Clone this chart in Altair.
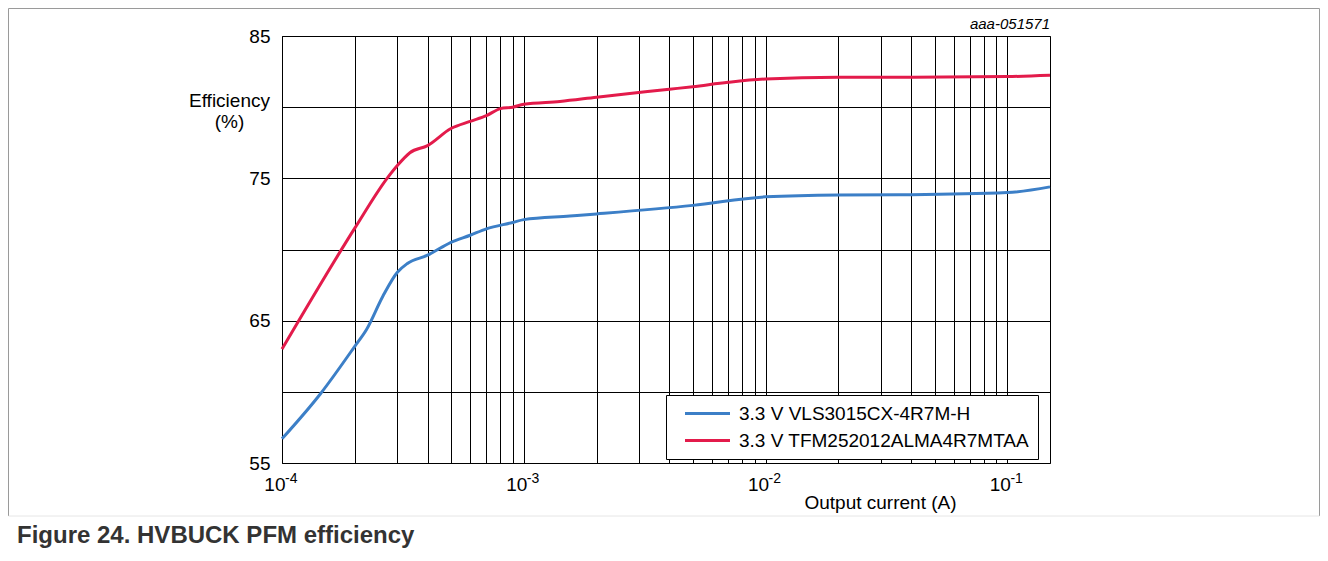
import altair as alt
import pandas as pd

# ---------------- data ----------------
blue_name = "3.3 V VLS3015CX-4R7M-H"
red_name = "3.3 V TFM252012ALMA4R7MTAA"

blue_current = [1e-4, 1.44e-4, 2e-4, 2.24e-4, 2.61e-4, 3e-4, 3.29e-4, 4e-4, 5e-4, 6e-4,
                7e-4, 9e-4, 1e-3, 1.55e-3, 2e-3, 5e-3, 1e-2, 2e-2, 4e-2, 1e-1, 0.15]
blue_eff = [56.7, 59.85, 63.2, 64.4, 66.7, 68.4, 69.0, 69.6, 70.5, 71.0,
            71.45, 71.9, 72.1, 72.35, 72.5, 73.1, 73.7, 73.83, 73.85, 74.0, 74.4]

red_current = [1e-4, 2e-4, 2.72e-4, 3e-4, 3.38e-4, 4e-4, 5e-4, 6e-4, 7e-4, 8e-4, 9e-4,
               1e-3, 1.41e-3, 2e-3, 4e-3, 5e-3, 7e-3, 1e-2, 2e-2, 4e-2, 1e-1, 0.15]
red_eff = [63.0, 71.5, 75.0, 75.9, 76.8, 77.3, 78.5, 79.0, 79.4, 79.9, 80.0,
           80.2, 80.4, 80.7, 81.26, 81.44, 81.75, 81.98, 82.1, 82.1, 82.15, 82.24]

decade_values = [1e-4, 1e-3, 1e-2, 1e-1]
decade_exponents = ["-4", "-3", "-2", "-1"]
y_grid = [55, 60, 65, 70, 75, 80, 85]
x_grid = [m * 10.0 ** e for e in range(-4, 0) for m in range(1, 10) if m * 10.0 ** e <= 0.15]

doc_id = "aaa-051571"
caption = "Figure 24.  HVBUCK PFM efficiency"

BLUE = "#3c7fc7"
RED = "#e31b4b"
FONT = "Liberation Sans"

df = pd.DataFrame({
    "current": blue_current + red_current,
    "eff": blue_eff + red_eff,
    "series": [blue_name] * len(blue_current) + [red_name] * len(red_current),
})
exp_df = pd.DataFrame({"current": decade_values, "exp": decade_exponents})

W, H = 768, 427

x_scale = alt.Scale(type="log", domain=[1e-4, 0.15], nice=False)
y_scale = alt.Scale(domain=[55, 85], nice=False, zero=False)

x_axis = alt.Axis(values=x_grid, grid=True, ticks=False, domain=False,
                  gridColor="black", gridOpacity=1, gridWidth=1,
                  labelExpr="abs(log(datum.value)/LN10 - round(log(datum.value)/LN10)) < 0.001 ? '10' : ''",
                  labelAlign="right", labelOffset=3, labelBaseline="alphabetic",
                  labelPadding=27, labelFontSize=19, labelColor="black",
                  labelFont=FONT, labelOverlap=False,
                  title="Output current (A)", titleFontSize=19, titleFont=FONT,
                  titleFontWeight="normal", titleColor="black",
                  titleX=598, titleY=45, titleAlign="center",
                  titleBaseline="alphabetic")

y_axis = alt.Axis(values=y_grid, grid=True, ticks=False, domain=False,
                  gridColor="black", gridOpacity=1, gridWidth=1,
                  labelExpr="datum.value % 10 == 5 ? datum.label : ''",
                  labelPadding=12, labelFontSize=19, labelColor="black",
                  labelFont=FONT,
                  title=["Efficiency", "(%)"], titleAngle=0, titleFontSize=19,
                  titleFont=FONT, titleFontWeight="normal", titleColor="black",
                  titleX=-53, titleY=70, titleAlign="center",
                  titleBaseline="alphabetic", titleLineHeight=21)

lines = alt.Chart(df).mark_line(strokeWidth=3, interpolate="monotone").encode(
    x=alt.X("current:Q", scale=x_scale, axis=x_axis),
    y=alt.Y("eff:Q", scale=y_scale, axis=y_axis),
    color=alt.Color("series:N",
                    scale=alt.Scale(domain=[blue_name, red_name], range=[BLUE, RED]),
                    legend=alt.Legend(title=None, orient="none", legendX=384, legendY=359,
                                      symbolType="M-2.5,0H2.5", symbolSize=324,
                                      symbolStrokeWidth=3, labelFontSize=19,
                                      labelFont=FONT, labelColor="black",
                                      padding=8, rowPadding=6, symbolOffset=23,
                                      labelOffset=21, strokeColor="black",
                                      fillColor="white", labelLimit=500)),
)

exps = alt.Chart(exp_df).mark_text(align="left", baseline="alphabetic", dx=3,
                                   fontSize=14, font=FONT, color="black").encode(
    x=alt.X("current:Q", scale=x_scale, axis=x_axis),
    y=alt.value(H + 20),
    text="exp:N",
)

label_df = pd.DataFrame({"t": [doc_id]})
docid = alt.Chart(label_df).mark_text(align="right", baseline="alphabetic",
                                      fontSize=15, font=FONT, fontStyle="italic",
                                      color="black").encode(
    x=alt.value(W), y=alt.value(-7), text="t:N")

cap_df = pd.DataFrame({"t": [caption]})
cap = alt.Chart(cap_df).mark_text(align="left", baseline="alphabetic",
                                  fontSize=24, font=FONT, fontWeight="bold",
                                  color="#333333").encode(
    x=alt.value(-265), y=alt.value(507), text="t:N")

border_df = pd.DataFrame({"k": [0]})
bl = alt.Chart(border_df).mark_rule(color="#9a9a9a", strokeWidth=1).encode(
    x=alt.value(-273.5), y=alt.value(-27.5), y2=alt.value(480))
bt = alt.Chart(border_df).mark_rule(color="#9a9a9a", strokeWidth=1).encode(
    x=alt.value(-273.5), x2=alt.value(1037.5), y=alt.value(-27.5))
br = alt.Chart(border_df).mark_rule(color="#9a9a9a", strokeWidth=1).encode(
    x=alt.value(1037.5), y=alt.value(-27.5), y2=alt.value(480))
bb = alt.Chart(border_df).mark_rule(color="#e6e6e6", strokeWidth=1).encode(
    x=alt.value(-273.5), x2=alt.value(1037.5), y=alt.value(480))

chart = alt.layer(lines, exps, docid, cap, bl, bt, br, bb).properties(
    width=W, height=H,
    autosize=alt.AutoSizeParams(type="none"),
    padding={"left": 274, "top": 28, "right": 270, "bottom": 85},
).configure(
    font=FONT,
    view=alt.ViewConfig(stroke="black", strokeWidth=1),
    axis=alt.AxisConfig(gridColor="black", gridOpacity=1, gridWidth=1),
)

chart.save("out.html", embed_options={"renderer": "svg", "actions": False})
